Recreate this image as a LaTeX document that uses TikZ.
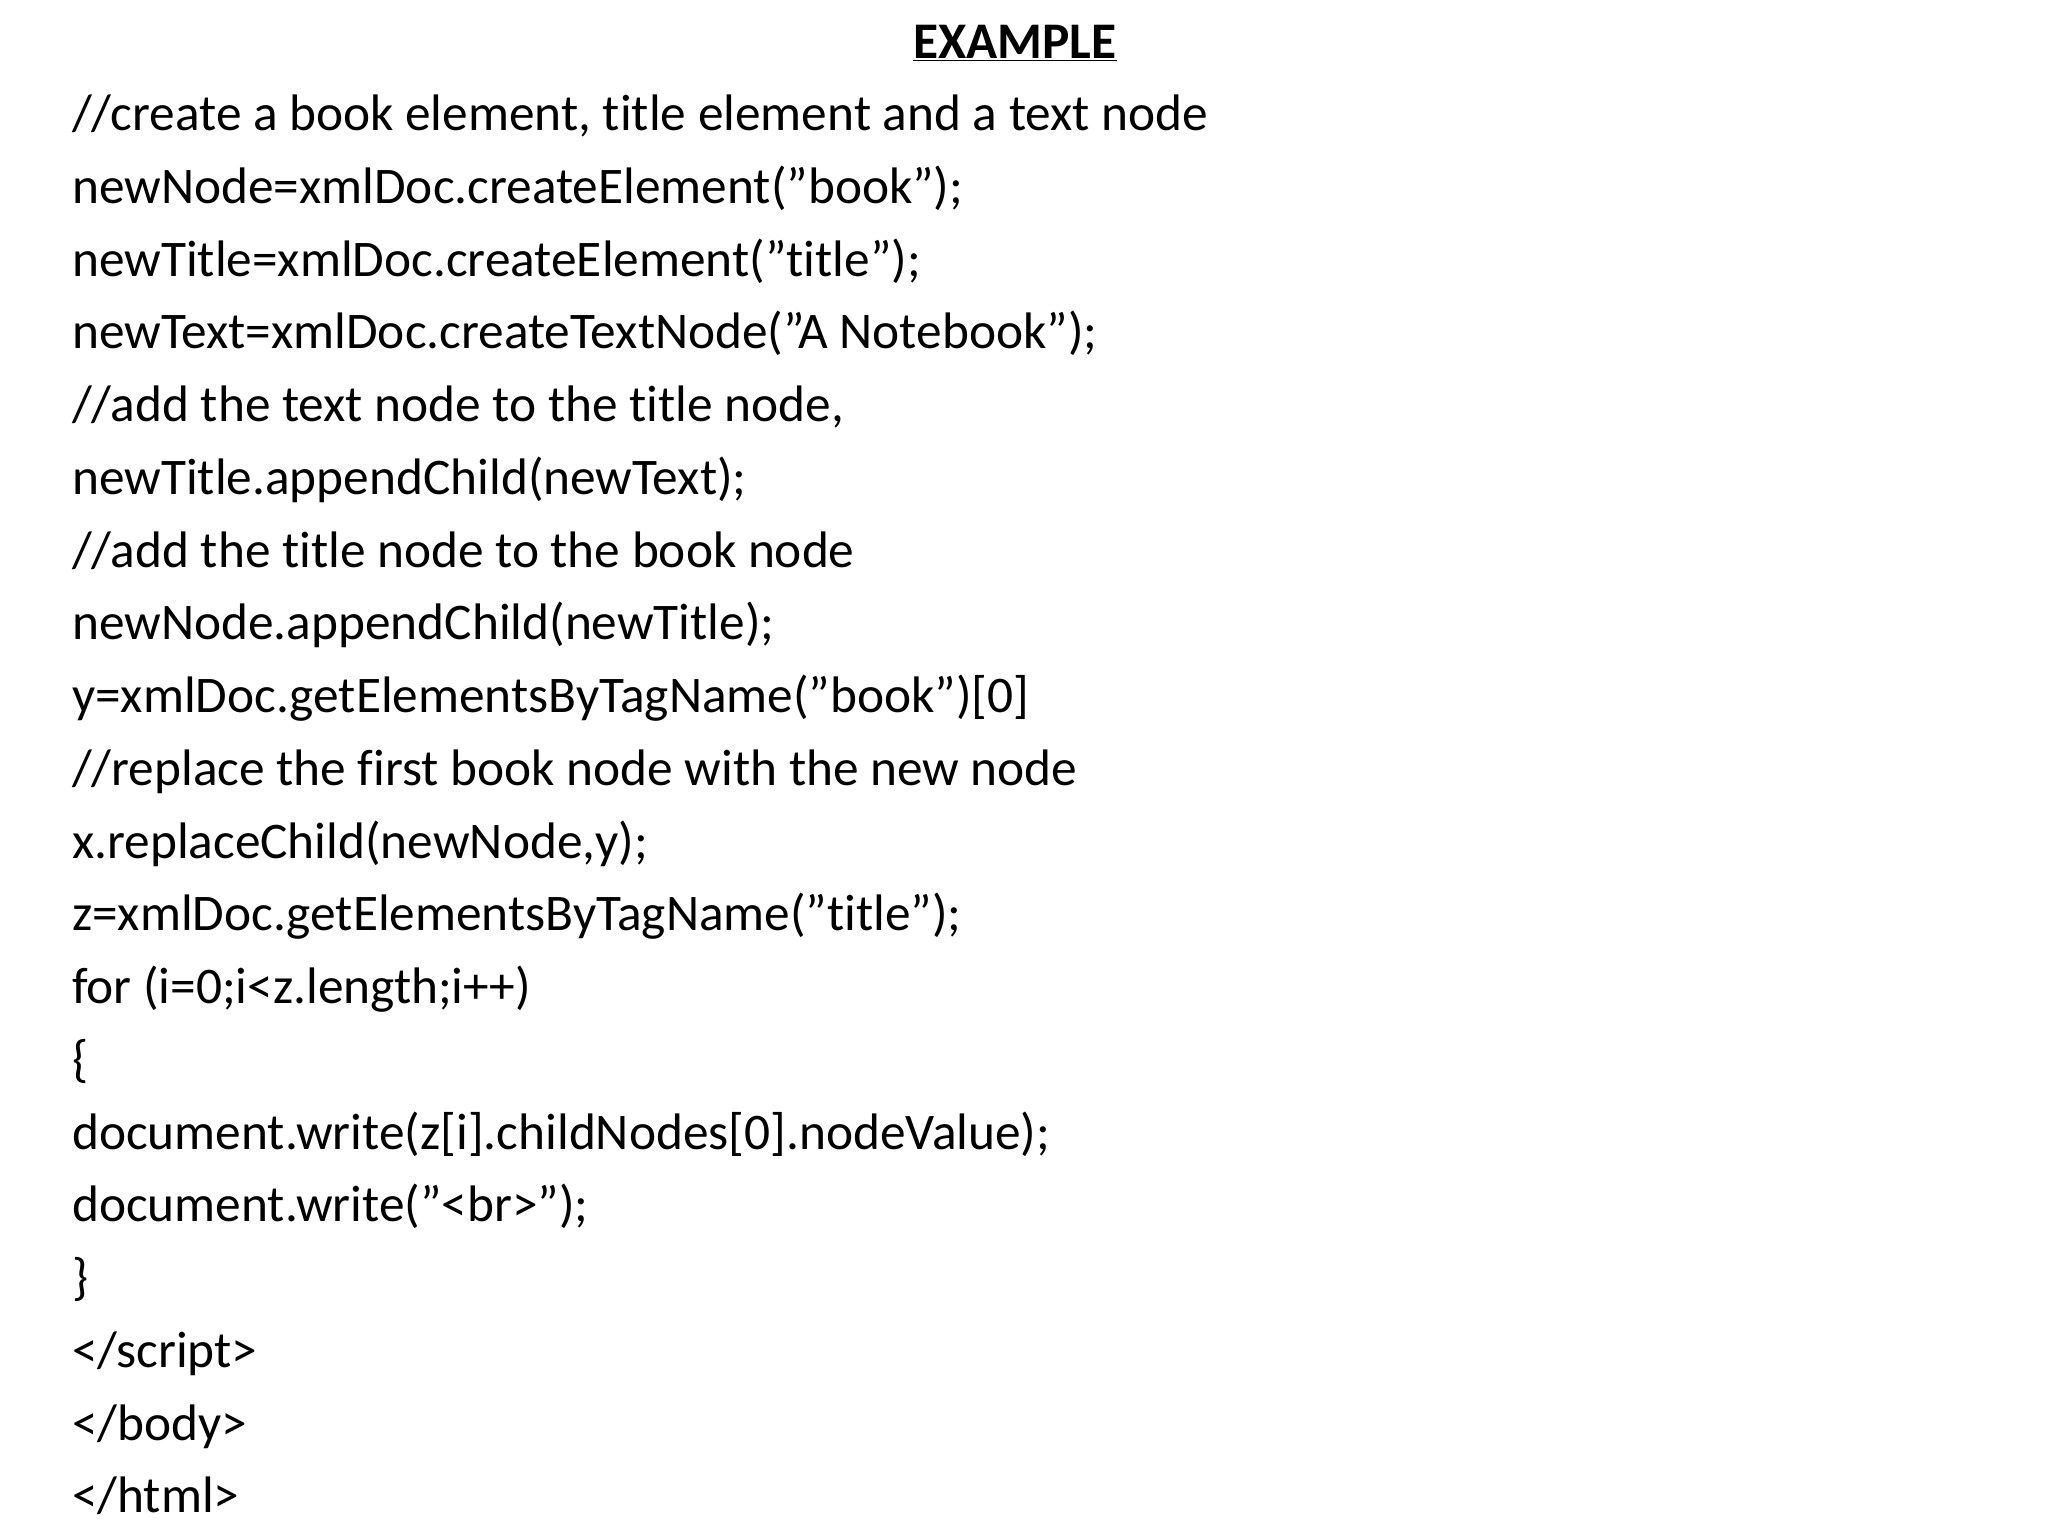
\documentclass[tikz,border=0pt]{standalone}
\usepackage{fontspec}
\setmainfont{Carlito}[Ligatures={NoCommon}]
\newcommand\qq{\char34\relax}
\begin{document}
\begin{tikzpicture}[x=1pt,y=-1pt,line/.style={anchor=base west,inner sep=0pt,font=\fontsize{39.3}{44}\selectfont}]
\useasboundingbox (0,0) rectangle (1568,1176);
\node[inner sep=0pt,anchor=base,font=\fontsize{39.3}{44}\selectfont\bfseries] (title) at (777,45) {\underline{EXAMPLE}};
\foreach \t [count=\i] in {
{//create a book element, title element and a text node},
{newNode=xmlDoc.createElement(\qq book\qq);},
{newTitle=xmlDoc.createElement(\qq title\qq);},
{newText=xmlDoc.createTextNode(\qq A Notebook\qq);},
{//add the text node to the title node,},
{newTitle.appendChild(newText);},
{//add the title node to the book node},
{newNode.appendChild(newTitle);},
{y=xmlDoc.getElementsByTagName(\qq book\qq)[0]},
{//replace the first book node with the new node},
{x.replaceChild(newNode,y);},
{z=xmlDoc.getElementsByTagName(\qq title\qq);},
{for (i=0;i<z.length;i++)},
{\{},
{document.write(z[i].childNodes[0].nodeValue);},
{document.write(\qq<br>\qq);},
{\}},
{</script>},
{</body>},
{</html>}}
{\node[line] (l\i) at (55,{100+55.7*(\i-1)}) {\t};}
\end{tikzpicture}
\end{document}
